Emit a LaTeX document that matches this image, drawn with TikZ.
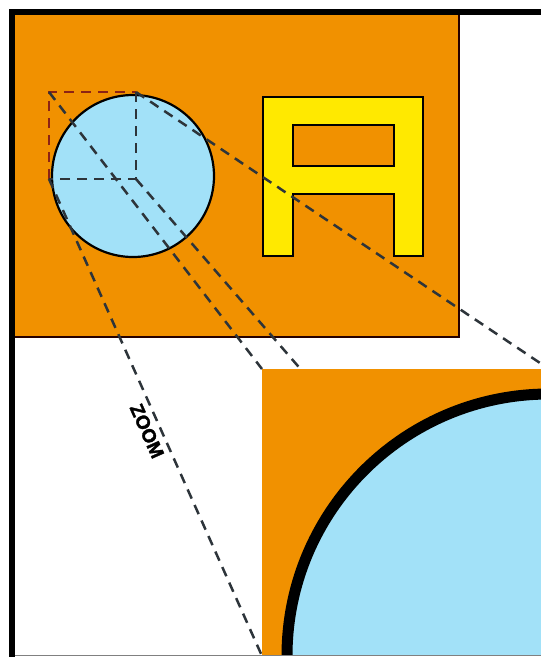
\documentclass[tikz,border=0pt]{standalone}
\usepackage{fontspec}
\setmainfont{Liberation Sans}
\newfontfamily\zoomfont{Liberation Sans Bold}[FakeBold=1.8]
\usepackage{tikz}
\definecolor{zorange}{RGB}{241,145,0}
\definecolor{zblue}{RGB}{162,225,248}
\definecolor{zyellow}{RGB}{255,233,0}
\definecolor{zdash}{RGB}{45,52,58}
\definecolor{zred}{RGB}{140,35,20}

\begin{document}
\begin{tikzpicture}[x=1pt,y=1pt,
  proj/.style={draw=zdash,line width=2.5pt,dash pattern=on 10pt off 7pt}]
\useasboundingbox (0,-657) rectangle (541,0);
\path[fill=white] (0,-657) rectangle (541,0);
% corners of the marked quarter and of its enlargement
\coordinate (sqTL) at (49,-92);
\coordinate (sqTR) at (136,-92);
\coordinate (sqBL) at (49,-179);
\coordinate (sqC) at (136,-179);
\coordinate (zmTL) at (262,-369);
\coordinate (zmTR) at (549,-369);
\coordinate (zmBL) at (262,-656);
\coordinate (zmC) at (549,-656);
\begin{scope}
\clip (15,-655) rectangle (541,-15);
% objects at depth 50:
\path[draw=black!85!red,line width=2pt,fill=zorange] (0,-337) rectangle (459,0);
\path[draw=black,line width=2.2pt,fill=zblue] (133,-176) circle (81);
\path[draw=black,line width=2.2pt,fill=zyellow,even odd rule]
  (263,-97) -- (423,-97) -- (423,-256) -- (394,-256) -- (394,-194)
  -- (293,-194) -- (293,-256) -- (263,-256) -- cycle
  (293,-125) rectangle (394,-166);
% objects at depth 40:
\path[proj,draw=zred] (sqBL) -- (sqTL) -- (sqTR);
\path[proj] (sqTR) -- (sqC) -- (sqBL);
\path[proj] (sqTL) -- (zmTL);
\path[proj] (sqTR) -- (zmTR);
\path[proj] (sqBL) -- (zmBL);
\path[proj] (sqC) -- (zmC);
% objects at depth 30:
\path[fill=zorange] (zmTL) rectangle (600,-700);
\path[draw=black,line width=11pt,fill=zblue] (zmC) circle (262);
\end{scope}
% frame
\path[draw=black,line width=6pt] (12,-660) -- (12,-12) -- (545,-12);
\path[draw=gray,line width=1pt] (15,-655.5) -- (541,-655.5);
\node[rotate=-66,font=\zoomfont\fontsize{19}{19}\selectfont] (zoomlbl) at (147,-431) {ZOOM};
\end{tikzpicture}
\end{document}
